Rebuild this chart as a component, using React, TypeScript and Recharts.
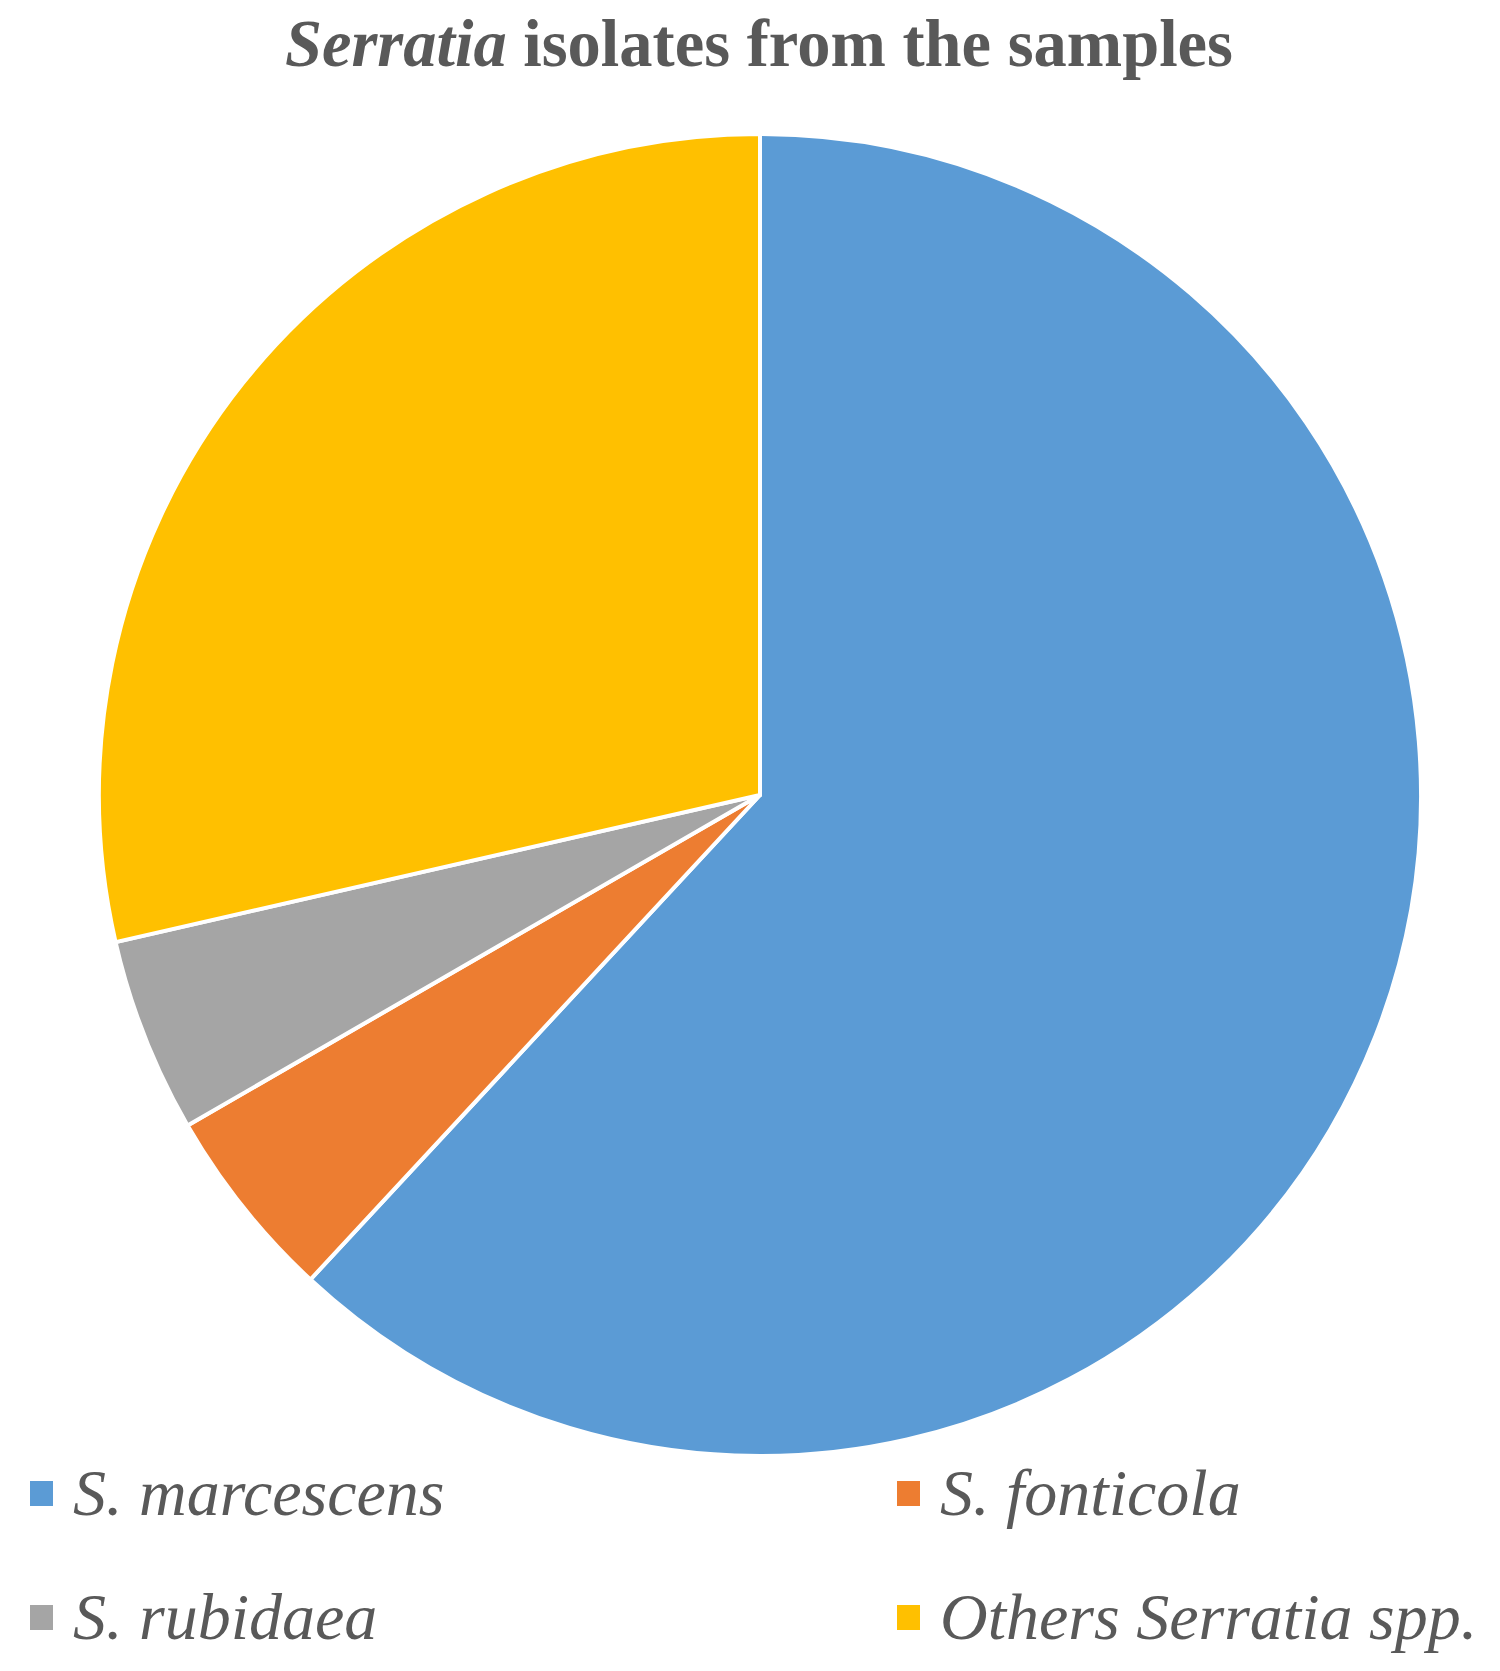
import React from 'react'
import { PieChart, Pie, Cell, Legend } from 'recharts'

const categories = ['S. marcescens', 'S. fonticola', 'S. rubidaea', 'Others Serratia spp.']
const isolateCounts = [13, 1, 1, 6]
const sliceColors = ['#5B9BD5', '#ED7D31', '#A5A5A5', '#FFC000']

const rows = categories.map((name, i) => ({ name, value: isolateCounts[i] }))

const TEXT = '#595959'
const SERIF = '"Liberation Serif", "Times New Roman", serif'

// two columns, filled row by row in data order
const LegendGrid = ({ payload }: any) => {
  const entries = payload ?? []
  const items = categories
    .map((c) => entries.find((p: any) => p.value === c))
    .filter(Boolean)
  const colX = [30, 897]
  const rowY = [41, 165]
  return (
    <svg width={1500} height={231} style={{ display: 'block' }}>
      {items.map((p: any, i: number) => {
        const x = colX[i % 2]
        const y = rowY[Math.floor(i / 2)]
        return (
          <g key={p.value}>
            <rect x={x} y={y} width={23} height={25} fill={p.color} />
            <text x={x + 43} y={y + 34} fontFamily={SERIF} fontStyle="italic" fontSize={66} fill={TEXT}>
              {p.value}
            </text>
          </g>
        )
      })}
    </svg>
  )
}

export default function App() {
  return (
    <div style={{ position: 'absolute', left: 0, top: 0, width: 1500, height: 1671, background: '#fff' }}>
      <PieChart width={1500} height={1671} margin={{ top: 0, right: 0, bottom: 0, left: 0 }}>
        <Pie
          data={rows}
          dataKey="value"
          nameKey="name"
          cx={760}
          cy={795}
          outerRadius={661}
          startAngle={90}
          endAngle={-270}
          stroke="#fff"
          strokeWidth={4}
          isAnimationActive={false}
        >
          {rows.map((r, i) => (
            <Cell key={r.name} fill={sliceColors[i]} />
          ))}
        </Pie>
        <Legend
          verticalAlign="bottom"
          itemSorter={null as any}
          content={<LegendGrid />}
          wrapperStyle={{ left: 0, bottom: 0, width: 1500 }}
        />
      </PieChart>
      <svg width={1500} height={100} style={{ position: 'absolute', left: 0, top: 0, pointerEvents: 'none' }}>
        <text x={285} y={66} fontFamily={SERIF} fontWeight="bold" fontSize={68} fill={TEXT} textLength={948} lengthAdjust="spacingAndGlyphs">
          <tspan fontStyle="italic">Serratia</tspan>
          <tspan> isolates from the samples</tspan>
        </text>
      </svg>
    </div>
  )
}
